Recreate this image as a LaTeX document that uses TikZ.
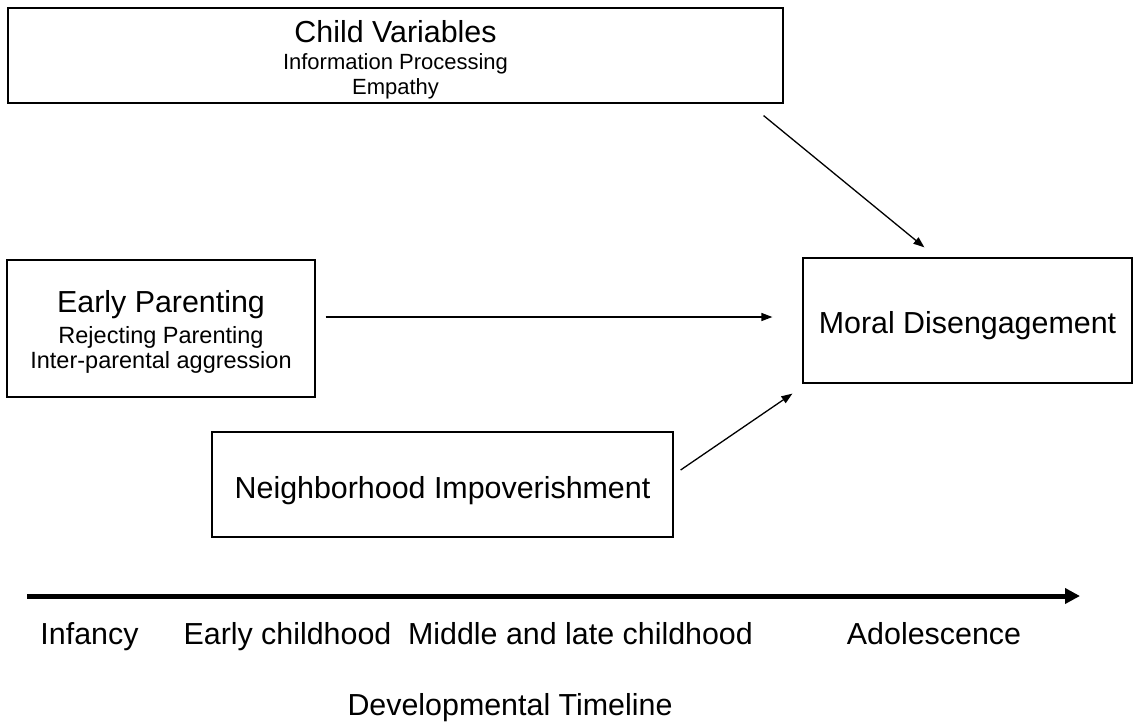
\documentclass[tikz,border=0pt]{standalone}
\usepackage{fontspec}
\setmainfont{Liberation Sans}
\usetikzlibrary{arrows.meta,calc}
\newcommand{\bigf}{\fontsize{30.4}{34}\selectfont}
\newcommand{\smallf}{\fontsize{23.5}{25}\selectfont}
\newcommand{\childsmall}{\fontsize{22}{25}\selectfont}
\tikzset{
  boxnode/.style={draw=black, line width=1.2pt, inner sep=0pt, align=center, font=\smallf},
  conn/.style={line width=1.3pt, -{Triangle[length=11pt,width=8pt]}},
  timeline/.style={line width=5pt, -{Triangle[length=15pt,width=15pt]}},
  tlabel/.style={font=\bigf, anchor=base, inner sep=0pt}
}
\begin{document}
\begin{tikzpicture}[x=1pt,y=1pt]
\useasboundingbox (0,0) rectangle (1133,-721);
\node[boxnode, font=\childsmall, minimum width=775pt, minimum height=95pt] (child) at (395.5,-55.5)
  {{\bigf\rule{0pt}{30pt}Child Variables}\\[2pt]Information Processing\\\rule[-5pt]{0pt}{5pt}Empathy};
\node[boxnode, minimum width=308pt, minimum height=137pt] (early) at (161,-328.5)
  {{\bigf\rule{0pt}{28.5pt}Early Parenting}\\[6pt]Rejecting Parenting\\Inter-parental aggression};
\node[boxnode, minimum width=329pt, minimum height=125pt] (moral) at (967.5,-320.5)
  {\bigf\rule[-7pt]{0pt}{39pt}Moral Disengagement};
\node[boxnode, minimum width=461pt, minimum height=105pt] (neigh) at (442.5,-484.5)
  {\bigf\rule[-7pt]{0pt}{41pt}Neighborhood Impoverishment};
\draw[conn] ([xshift=-20pt,yshift=-12pt]child.south east) -- ([xshift=122pt,yshift=10pt]moral.north west);
\draw[conn] ([xshift=10pt,yshift=11.5pt]early.east) -- ([xshift=-30pt,yshift=3.5pt]moral.west);
\draw[conn] ([xshift=7pt,yshift=14.5pt]neigh.east) -- ([xshift=-10pt,yshift=-10pt]moral.south west);
\coordinate (tl0) at (27,-596);
\coordinate (tl1) at (1080,-596);
\draw[timeline] (tl0) -- (tl1);
\node[tlabel] (infancy) at (89.5,-644) {Infancy};
\node[tlabel] (earlych) at (287.5,-644) {Early childhood};
\node[tlabel] (middle) at (580.5,-644) {Middle and late childhood};
\node[tlabel] (adol) at (934,-644) {Adolescence};
\node[tlabel] (devtl) at (510,-715) {Developmental Timeline};
\end{tikzpicture}
\end{document}
